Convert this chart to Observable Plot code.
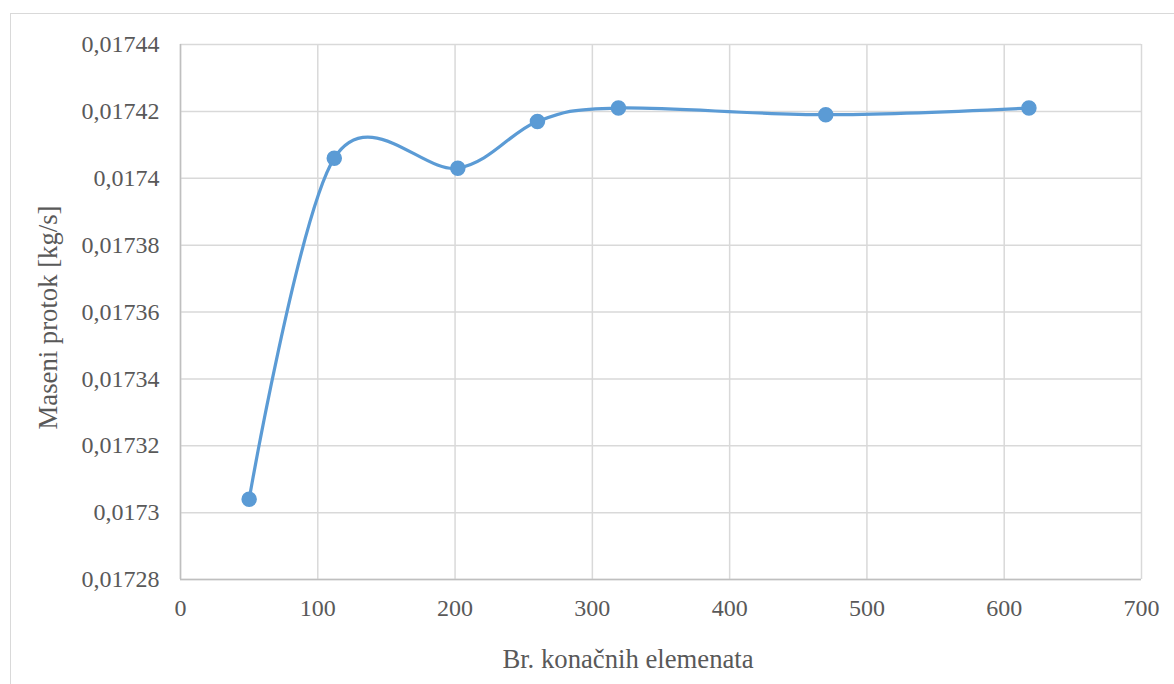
<!DOCTYPE html>
<html>
<head>
<meta charset="utf-8">
<script src="https://cdn.jsdelivr.net/npm/d3@7"></script>
<script src="https://cdn.jsdelivr.net/npm/@observablehq/plot@0.6"></script>
<style>
  html, body { margin: 0; padding: 0; background: #fff; overflow: hidden; }
  #wrap { position: relative; width: 1174px; height: 684px; }
  #frame { position: absolute; left: 10px; top: 13px; width: 1200px; height: 700px; border: 1.5px solid #d9d9d9; box-sizing: border-box; }
  #chart { position: absolute; left: 0; top: 0; }
  #chart svg text { font-family: 'Liberation Serif', 'Times New Roman', serif; }
</style>
</head>
<body>
<div id="wrap"><div id="frame"></div><div id="chart"></div></div>
<script>
const elements = [50, 112, 202, 260, 319, 470, 618];
const massFlow = [0.017304, 0.017406, 0.017403, 0.017417, 0.017421, 0.017419, 0.017421];
const xTicks = [0, 100, 200, 300, 400, 500, 600, 700];
const yTicks = [0.01728, 0.0173, 0.01732, 0.01734, 0.01736, 0.01738, 0.0174, 0.01742, 0.01744];
const yTickLabels = ["0,01728", "0,0173", "0,01732", "0,01734", "0,01736", "0,01738", "0,0174", "0,01742", "0,01744"];
const xTitle = "Br. konačnih elemenata";
const yTitle = "Maseni protok [kg/s]";

const data = elements.map((x, i) => ({x, y: massFlow[i]}));
const font = "'Liberation Serif', 'Times New Roman', serif";

const chart = Plot.plot({
  width: 1174,
  height: 684,
  marginLeft: 180,
  marginRight: 33,
  marginTop: 44,
  marginBottom: 105,
  style: {fontFamily: font, fontSize: "24px", color: "#595959", background: "transparent"},
  x: {domain: [0, 700], ticks: xTicks, label: null},
  y: {domain: [0.01728, 0.01744], ticks: yTicks, label: null},
  marks: [
    Plot.gridX(xTicks, {stroke: "#d9d9d9", strokeOpacity: 1, strokeWidth: 1.5}),
    Plot.gridY(yTicks, {stroke: "#d9d9d9", strokeOpacity: 1, strokeWidth: 1.5}),
    Plot.ruleX([0], {stroke: "#bfbfbf", strokeWidth: 1.5}),
    Plot.ruleY([0.01728], {stroke: "#bfbfbf", strokeWidth: 1.5}),
    Plot.axisX(xTicks, {tickSize: 0, tickPadding: 19, fill: "#595959", fontSize: 24, fontFamily: font}),
    Plot.axisY(yTicks, {tickSize: 0, tickPadding: 21, fill: "#595959", fontSize: 24, fontFamily: font,
      tickFormat: (d) => yTickLabels[yTicks.indexOf(d)]}),
    Plot.line(data, {x: "x", y: "y", curve: "cardinal", stroke: "#5b9bd5", strokeWidth: 3.2}),
    Plot.dot(data, {x: "x", y: "y", r: 7, fill: "#5b9bd5", stroke: "#5b9bd5"}),
    Plot.text([xTitle], {frameAnchor: "bottom", textAnchor: "middle", lineAnchor: "middle", dx: -33, dy: 79.5, fill: "#595959", fontSize: 26.7, fontFamily: font, text: d => d}),
    Plot.text([yTitle], {frameAnchor: "left", textAnchor: "middle", lineAnchor: "middle", dx: -131.8, dy: 5.5, rotate: -90, fill: "#595959", fontSize: 26.7, fontFamily: font, text: d => d})
  ]
});
document.getElementById("chart").appendChild(chart);
</script>
</body>
</html>
